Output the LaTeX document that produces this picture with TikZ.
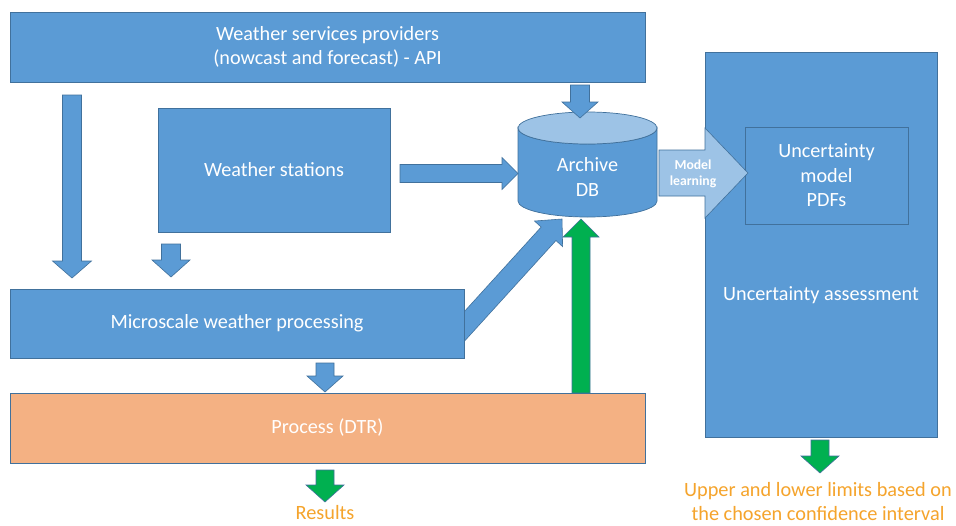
\documentclass[tikz,border=0pt]{standalone}
\usepackage{fontspec}
\setmainfont{Carlito}
\usetikzlibrary{calc}
\definecolor{bblue}{HTML}{5B9BD5}
\definecolor{bedge}{HTML}{41719C}
\definecolor{lblue}{HTML}{9DC3E6}
\definecolor{orng}{HTML}{F4B183}
\definecolor{grn}{HTML}{00B050}
\definecolor{otext}{HTML}{F5A42C}
\tikzset{
  box/.style={draw=bedge, fill=bblue, line width=0.7pt, text=white,
    font=\fontsize{20.2}{24.5}\selectfont, align=center, inner sep=0pt},
  plain/.style={text=white, font=\fontsize{20.2}{24.5}\selectfont, align=center, inner sep=0pt},
  barrowstyle/.style={draw=bedge, fill=bblue, line width=0.6pt},
  garrowstyle/.style={draw=bedge, fill=grn, line width=0.6pt},
  larrowstyle/.style={draw=bedge, fill=lblue, line width=0.6pt},
  otxt/.style={text=otext, font=\fontsize{20.3}{23.5}\selectfont, align=center, inner sep=0pt},
}
% #1 style, #2 start, #3 tip, #4 shaft half width, #5 head half width, #6 head length
\newcommand\blockarrow[6]{%
  \coordinate (bah) at ($(#3)!#6!(#2)$);
  \draw[#1] ($(#2)!#4!90:(#3)$) -- ($(bah)!#4!-90:(#2)$) -- ($(bah)!#5!-90:(#2)$)
    -- (#3) -- ($(bah)!#5!90:(#2)$) -- ($(bah)!#4!90:(#2)$) -- ($(#2)!#4!-90:(#3)$) -- cycle;
}
\begin{document}
\begin{tikzpicture}[x=1pt, y=-1pt]
\useasboundingbox (0,0) rectangle (956,525);
\fill[white] (0,0) rectangle (956,525);

% diagonal arrow first (its tail hides behind the microscale box)
\coordinate (a5s) at (452,340);  \coordinate (a5e) at (562,219);
\blockarrow{barrowstyle}{a5s}{a5e}{10pt}{19pt}{20pt}

% boxes
\node[box, minimum width=635pt, minimum height=70pt] (top) at (327.5,47)
  {Weather services providers\\(nowcast and forecast) - API};
\node[box, minimum width=232pt, minimum height=124pt] (ws) at (274,170) {Weather stations};
\node[box, minimum width=454pt, minimum height=69pt] (micro) at (237,323.5) {Microscale weather processing};
\node[box, fill=orng, minimum width=635pt, minimum height=70pt] (dtr) at (327.5,428) {Process (DTR)};
\node[box, minimum width=232pt, minimum height=385pt] (ua) at (821,244.5) {};
\node[plain] (uatext) at (821,295) {Uncertainty assessment};
\node[box, minimum width=163pt, minimum height=97pt] (um) at (826.5,175.5) {Uncertainty\\model\\PDFs};

% archive DB cylinder
\filldraw[fill=bblue, draw=bedge, line width=0.7pt] (518,128) -- (518,201)
  arc[start angle=180, end angle=0, x radius=69.5, y radius=16] -- (657,128)
  arc[start angle=0, end angle=180, x radius=69.5, y radius=16] -- cycle;
\filldraw[fill=lblue, draw=bedge, line width=0.7pt] (587.5,128) ellipse[x radius=69.5, y radius=16];
\node[plain] (db) at (587.5,177) {Archive\\DB};

% model learning arrow
\draw[larrowstyle] (659,150) -- (705,150) -- (705,128) -- (748,173) -- (705,218) -- (705,196) -- (659,196) -- cycle;
\node[text=white, font=\fontsize{13.7}{16.5}\selectfont\bfseries, align=center, inner sep=0pt] (ml) at (693,174) {Model\\learning};

% arrow end points
\coordinate (a1s) at (72,95);    \coordinate (a1e) at (72,278);
\coordinate (a2s) at (171,244);  \coordinate (a2e) at (171,277);
\coordinate (a3s) at (580,85);   \coordinate (a3e) at (580,118);
\coordinate (a4s) at (400,173.5);\coordinate (a4e) at (518,173.5);
\coordinate (a6s) at (325,363);  \coordinate (a6e) at (325,392);
\coordinate (g1s) at (581,393);  \coordinate (g1e) at (581,219);
\coordinate (g2s) at (325,470);  \coordinate (g2e) at (325,502);
\coordinate (g3s) at (820,440);  \coordinate (g3e) at (820,473);

\blockarrow{barrowstyle}{a1s}{a1e}{9.5pt}{19.5pt}{17pt}
\blockarrow{barrowstyle}{a2s}{a2e}{9.5pt}{19pt}{17pt}
\blockarrow{barrowstyle}{a3s}{a3e}{9.5pt}{18pt}{16pt}
\blockarrow{barrowstyle}{a4s}{a4e}{9pt}{16pt}{16pt}
\blockarrow{barrowstyle}{a6s}{a6e}{9pt}{18pt}{16pt}
\blockarrow{garrowstyle}{g1s}{g1e}{9pt}{18pt}{18pt}
\blockarrow{garrowstyle}{g2s}{g2e}{9pt}{19pt}{17pt}
\blockarrow{garrowstyle}{g3s}{g3e}{9pt}{19pt}{17pt}

% output texts
\node[otxt] (res) at (325,513) {Results};
\node[otxt] (lim) at (818,501.5) {Upper and lower limits based on\\the chosen confidence interval};
\end{tikzpicture}
\end{document}
